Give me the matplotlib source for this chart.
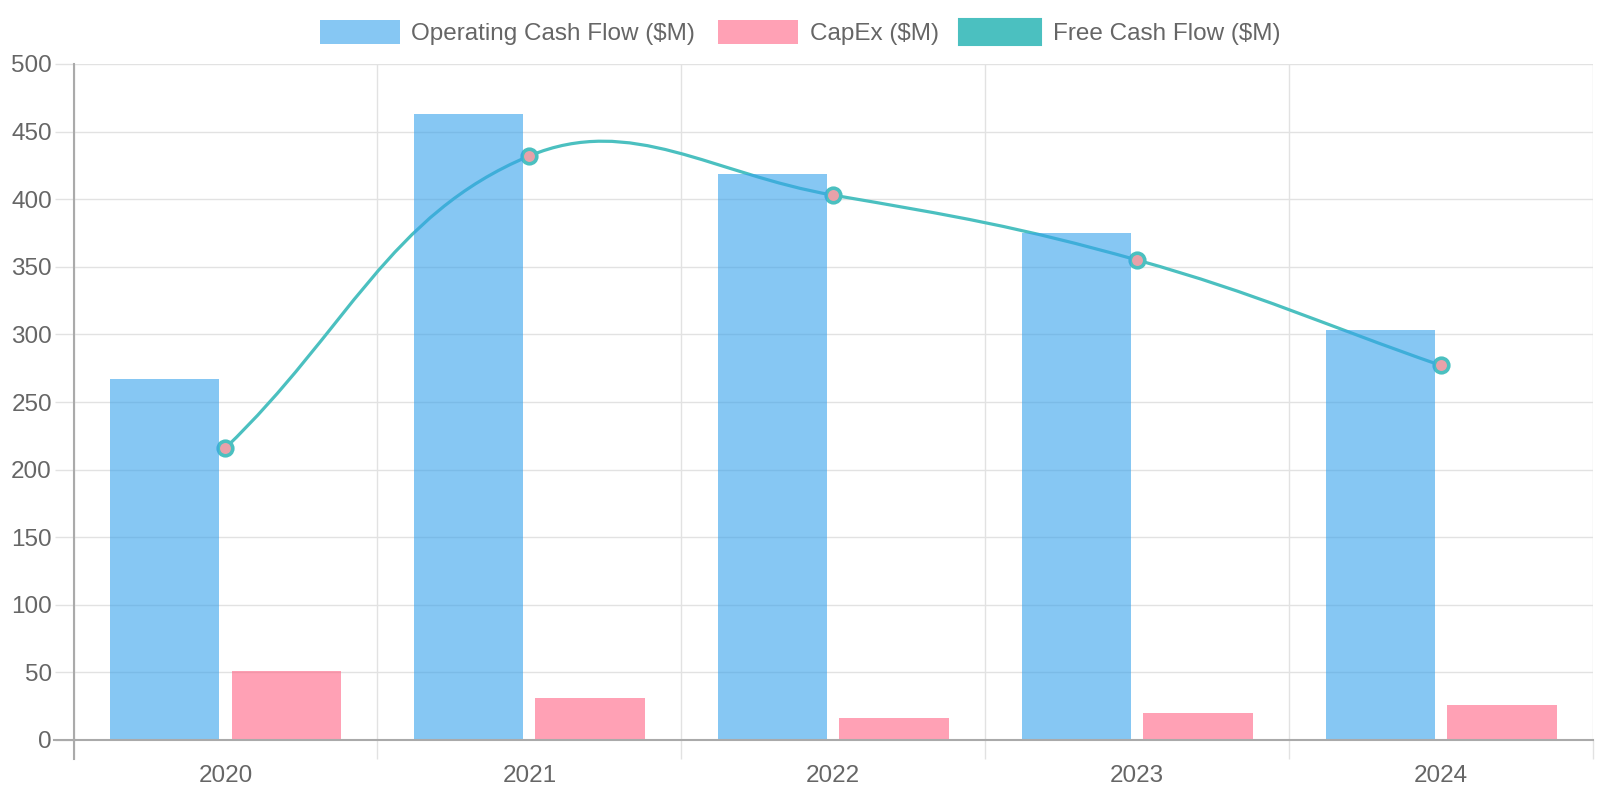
import matplotlib
matplotlib.use("Agg")
import matplotlib.pyplot as plt
import numpy as np
from matplotlib.path import Path
from matplotlib.patches import PathPatch, Rectangle

years = ["2020", "2021", "2022", "2023", "2024"]
operating_cf = [267, 463, 419, 375, 303]
capex = [51, 31, 16, 20, 26]
free_cf = [216, 432, 403, 355, 277]
y_ticks = [0, 50, 100, 150, 200, 250, 300, 350, 400, 450, 500]

plt.rcParams['font.family'] = ['Liberation Sans', 'DejaVu Sans']

W, H = 1600, 800
fig = plt.figure(figsize=(16, 8), dpi=100)
L, R, T, B = 73.5, 1593, 64, 740
ax = fig.add_axes([L / W, 1 - B / H, (R - L) / W, (B - T) / H])
ax.set_xlim(-0.5, len(years) - 0.5)
ax.set_ylim(0, 500)

blue = (54/255, 162/255, 235/255, 0.6)
pink = (255/255, 99/255, 132/255, 0.6)
teal = '#4BC0C0'
grid_c = '#E2E2E2'
axis_c = '#AAAAAA'
text_c = '#666666'
FS = 17.5

x = np.arange(len(years))
ax.bar(x - 0.2, operating_cf, width=0.36, color=blue, zorder=4, linewidth=0)
ax.bar(x + 0.2, capex, width=0.36, color=pink, zorder=4, linewidth=0)

# Chart.js style spline (tension 0.4) in pixel space
pts = ax.transData.transform(np.column_stack([x, free_cf]).astype(float))
t = 0.4
n = len(pts)
cp_prev, cp_next = [], []
for i in range(n):
    p0 = pts[i - 1] if i > 0 else pts[i]
    p1 = pts[i]
    p2 = pts[i + 1] if i < n - 1 else pts[i]
    d01 = np.hypot(*(p1 - p0))
    d12 = np.hypot(*(p2 - p1))
    s = d01 + d12
    s01 = d01 / s if s else 0
    s12 = d12 / s if s else 0
    cp_prev.append(p1 - t * s01 * (p2 - p0))
    cp_next.append(p1 + t * s12 * (p2 - p0))
verts = [pts[0]]
codes = [Path.MOVETO]
for i in range(n - 1):
    verts += [cp_next[i], cp_prev[i + 1], pts[i + 1]]
    codes += [Path.CURVE4] * 3
inv = ax.transData.inverted()
verts_d = inv.transform(np.array(verts))
path = Path(verts_d, codes)
ax.add_patch(PathPatch(path, facecolor='none', edgecolor=teal, linewidth=2.3, zorder=3,
                       capstyle='round', joinstyle='round'))
ax.plot(x, free_cf, linestyle='none', marker='o', markersize=10.5, markerfacecolor='#E9A1A9',
        markeredgecolor=teal, markeredgewidth=2.6, zorder=3.5)

# Grid & ticks
ax.set_yticks(y_ticks)
ax.set_yticklabels([str(v) for v in y_ticks], fontsize=FS, color=text_c)
ax.set_xticks(np.arange(-0.5, len(years)), minor=False)
ax.set_xticklabels([])
ax.set_xticks(x, minor=True)
ax.set_xticklabels(years, minor=True, fontsize=FS, color=text_c)
ax.tick_params(axis='y', which='major', length=14, width=1, color=grid_c, pad=1.5)
ax.tick_params(axis='x', which='major', length=14, width=1, color=grid_c)
ax.tick_params(axis='x', which='minor', length=0, pad=18)
ax.grid(True, which='major', color=grid_c, linewidth=1, zorder=0)
ax.set_axisbelow(True)
for s in ['top', 'right']:
    ax.spines[s].set_visible(False)
for s in ['left', 'bottom']:
    ax.spines[s].set_color(axis_c)
    ax.spines[s].set_linewidth(1.5)
    ax.spines[s].set_zorder(5)
# darker axis tick extensions
ax.plot([-0.5, -0.5], [0, -19 * 500 / (B - T)], color=axis_c, lw=1.5, clip_on=False, zorder=5)
ax.plot([-0.5 - 19.5 * 5 / (R - L), -0.5], [0, 0], color=axis_c, lw=1.5, clip_on=False, zorder=5)

# Legend (manual, top centered)
legend_items = [
    ("Operating Cash Flow ($M)", blue, None, 320, 411),
    ("CapEx ($M)", pink, None, 718, 810),
    ("Free Cash Flow ($M)", teal, teal, 959, 1053),
]
for label, fc, ec, bx, tx in legend_items:
    if ec is None:
        rect = Rectangle((bx / W, 1 - 43.5 / H), 80 / W, 23.5 / H, transform=fig.transFigure,
                         facecolor=fc, edgecolor='none')
    else:
        rect = Rectangle((bx / W, 1 - 44.5 / H), 82 / W, 26 / H, transform=fig.transFigure,
                         facecolor=fc, edgecolor=ec, linewidth=1.5)
    fig.patches.append(rect)
    fig.text(tx / W, 1 - 34 / H, label, fontsize=FS, color=text_c, va='center', ha='left')

fig.savefig("out.png", dpi=100)
